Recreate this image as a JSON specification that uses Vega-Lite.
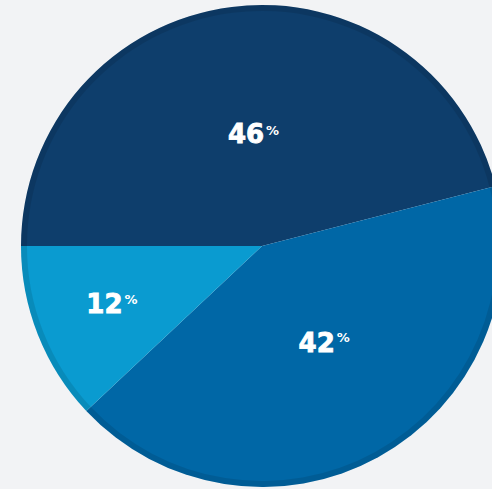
{
  "$schema": "https://vega.github.io/schema/vega-lite/v6.json",
  "width": 460,
  "height": 486,
  "autosize": {"type": "none"},
  "padding": {"left": 32, "top": 3, "right": 0, "bottom": 0},
  "background": "#f2f3f5",
  "view": {"stroke": null},
  "data": {
    "values": [
      {"segment": "A", "pct": 46, "order": 1},
      {"segment": "B", "pct": 42, "order": 2},
      {"segment": "C", "pct": 12, "order": 3}
    ]
  },
  "encoding": {
    "theta": {"field": "pct", "type": "quantitative", "stack": true, "scale": {"range": [-1.5707963, 4.712389]}},
    "order": {"field": "order", "type": "quantitative"}
  },
  "layer": [
    {
      "mark": {"type": "arc", "outerRadius": 241},
      "encoding": {
        "color": {"field": "segment", "type": "nominal", "legend": null,
          "scale": {"domain": ["A", "B", "C"], "range": ["#0e3e6c", "#0067a6", "#0a9bd0"]}}
      }
    },
    {
      "mark": {"type": "arc", "outerRadius": 241, "innerRadius": 235, "color": "#000000", "opacity": 0.1}
    },
    {
      "mark": {"type": "text", "radius": 103, "dx": 15, "dy": -1, "align": "right", "baseline": "alphabetic", "font": "DejaVu Sans", "fontWeight": "bold", "fontSize": 26, "color": "#ffffff", "stroke": "#ffffff", "strokeWidth": 0.9},
      "encoding": {"text": {"field": "pct", "type": "quantitative"}, "opacity": {"condition": {"test": "datum.pct == 46", "value": 1}, "value": 0}}
    },
    {
      "mark": {"type": "text", "radius": 103, "dx": 17, "dy": -9, "align": "left", "baseline": "alphabetic", "font": "DejaVu Sans", "fontWeight": "bold", "fontSize": 13, "color": "#ffffff"},
      "encoding": {"text": {"value": "%"}, "opacity": {"condition": {"test": "datum.pct == 46", "value": 1}, "value": 0}}
    },
    {
      "mark": {"type": "text", "radius": 120, "dx": 15, "dy": 1, "align": "right", "baseline": "alphabetic", "font": "DejaVu Sans", "fontWeight": "bold", "fontSize": 26, "color": "#ffffff", "stroke": "#ffffff", "strokeWidth": 0.9},
      "encoding": {"text": {"field": "pct", "type": "quantitative"}, "opacity": {"condition": {"test": "datum.pct == 42", "value": 1}, "value": 0}}
    },
    {
      "mark": {"type": "text", "radius": 120, "dx": 17, "dy": -9, "align": "left", "baseline": "alphabetic", "font": "DejaVu Sans", "fontWeight": "bold", "fontSize": 13, "color": "#ffffff"},
      "encoding": {"text": {"value": "%"}, "opacity": {"condition": {"test": "datum.pct == 42", "value": 1}, "value": 0}}
    },
    {
      "mark": {"type": "text", "radius": 150, "dx": 0, "dy": 12, "align": "right", "baseline": "alphabetic", "font": "DejaVu Sans", "fontWeight": "bold", "fontSize": 26, "color": "#ffffff", "stroke": "#ffffff", "strokeWidth": 0.9},
      "encoding": {"text": {"field": "pct", "type": "quantitative"}, "opacity": {"condition": {"test": "datum.pct == 12", "value": 1}, "value": 0}}
    },
    {
      "mark": {"type": "text", "radius": 150, "dx": 2, "dy": 3, "align": "left", "baseline": "alphabetic", "font": "DejaVu Sans", "fontWeight": "bold", "fontSize": 13, "color": "#ffffff"},
      "encoding": {"text": {"value": "%"}, "opacity": {"condition": {"test": "datum.pct == 12", "value": 1}, "value": 0}}
    }
  ]
}
